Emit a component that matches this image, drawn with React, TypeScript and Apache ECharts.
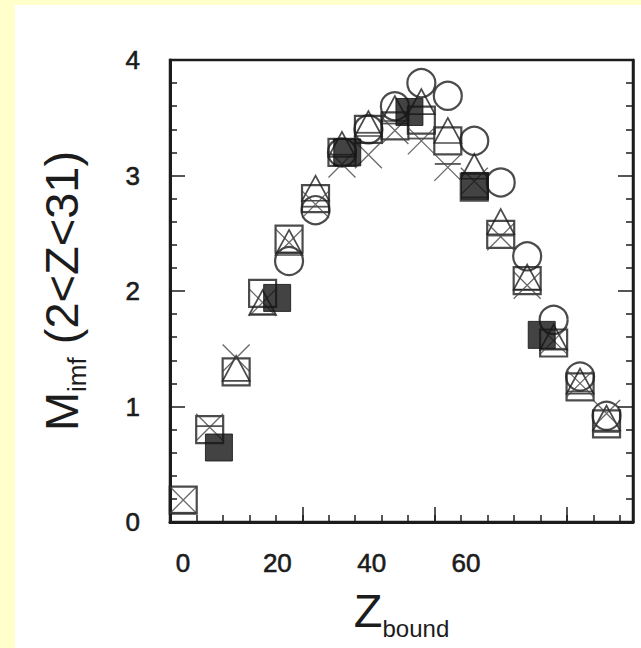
import React, { useEffect, useRef } from "react";
import * as echarts from "echarts";

// Z bins (centre of each bin)
const zBins = [2, 6, 10, 14, 18, 22, 26, 30, 34, 38, 42, 46, 50, 54, 58, 62, 66];
// M_imf values per series (null = no point)
const openSquareVals = [0.19, 0.8, 1.3, 1.98, 2.45, 2.8, 3.2, 3.4, 3.43, 3.48, 3.3, 2.9, 2.49, 2.09, 1.55, 1.17, 0.85];
const openTriangleVals = [null, null, 1.33, 1.9, 2.42, 2.89, 3.27, 3.45, 3.58, 3.64, 3.39, 3.08, 2.6, 2.12, 1.6, 1.22, 0.9];
const openCircleVals = [null, null, null, null, 2.26, 2.7, 3.2, 3.4, 3.6, 3.8, 3.69, 3.3, 2.94, 2.3, 1.75, 1.26, 0.92];
const crossVals = [0.19, 0.82, 1.42, 1.9, 2.42, 2.75, 3.1, 3.18, 3.39, 3.3, 3.07, 2.95, 2.47, 2.05, 1.57, 1.2, 0.94];
const dashVals = [0.08, 0.83, null, 1.8, 2.33, 2.73, 3.18, 3.37, 3.45, 3.32, 3.1, 2.81, 2.48, 2.01, 1.5, 1.13, 0.78];
const filledZ = [7.4, 16.2, 26.8, 36.2, 46.1, 56.2];
const filledVals = [0.645, 1.94, 3.2, 3.55, 2.91, 1.62];

// axis ticks / labels
const xMajorTicks = [20, 40, 60];
const xTickLabels = [0, 20, 40, 60];

const pairs = (xs: number[], ys: (number | null)[]) =>
  xs.map((x, i) => [x, ys[i]]).filter((p) => p[1] !== null);

const INK = "#1c1c1c";
const FONT = "Liberation Sans, Arial, sans-serif";
const labelStyle = {
  fontSize: 26,
  fontFamily: FONT,
  color: INK,
  textBorderColor: INK,
  textBorderWidth: 0.6,
};

export default function App() {
  const ref = useRef<HTMLDivElement>(null);
  useEffect(() => {
    const chart = echarts.init(ref.current!, null, { renderer: "svg" });
    const hollow = { color: "rgba(0,0,0,0)", borderColor: "#1e1e1e", borderWidth: 2.2 };
    const option: any = {
      animation: false,
      grid: {
        left: 155,
        right: 8,
        top: 55,
        bottom: 126,
        show: true,
        borderColor: INK,
        borderWidth: 2.5,
        backgroundColor: "rgba(0,0,0,0)",
      },
      xAxis: [
        {
          type: "value",
          min: 0,
          max: 70,
          interval: 4,
          position: "bottom",
          axisLine: { show: true, onZero: false, lineStyle: { color: INK, width: 3 } },
          axisTick: { show: true, inside: true, length: 7, lineStyle: { color: INK, width: 1.5 } },
          axisLabel: { show: false },
          splitLine: { show: false },
        },
        {
          type: "value",
          min: 0,
          max: 70,
          position: "bottom",
          axisLine: { show: false },
          axisTick: {
            show: true,
            inside: true,
            length: 15,
            customValues: xMajorTicks,
            lineStyle: { color: INK, width: 1.5 },
          },
          axisLabel: { show: false },
          splitLine: { show: false },
        },
        {
          type: "value",
          min: -2.76,
          max: 95.4,
          position: "bottom",
          axisLine: { show: false },
          axisTick: { show: false },
          axisLabel: { show: true, customValues: xTickLabels, margin: 28, ...labelStyle },
          splitLine: { show: false },
          name: "{m|Z}{s|bound}",
          nameLocation: "middle",
          nameGap: 58,
          nameTextStyle: {
            rich: {
              m: { fontSize: 47, fontFamily: FONT, color: INK },
              s: { fontSize: 24, fontFamily: FONT, color: INK, padding: [36, 0, 0, 0] },
            },
          },
        },
      ],
      yAxis: [
        {
          type: "value",
          min: 0,
          max: 4,
          interval: 1,
          position: "left",
          axisLine: { show: true, onZero: false, lineStyle: { color: INK, width: 3 } },
          axisTick: { show: true, inside: true, length: 15, lineStyle: { color: INK, width: 1.5 } },
          minorTick: { show: true, splitNumber: 5, length: 7, lineStyle: { color: INK, width: 1.5 } },
          axisLabel: { show: true, margin: 30, ...labelStyle },
          splitLine: { show: false },
          minorSplitLine: { show: false },
          name: "{m|M}{s|imf}{p| (2<Z<31)}",
          nameLocation: "middle",
          nameRotate: 90,
          nameGap: 80,
          nameTextStyle: {
            rich: {
              m: { fontSize: 47, fontFamily: FONT, color: INK },
              s: { fontSize: 26, fontFamily: FONT, color: INK, padding: [32, 0, 0, 0] },
              p: { fontSize: 47, fontFamily: FONT, color: INK },
            },
          },
        },
        {
          type: "value",
          min: 0,
          max: 4,
          interval: 1,
          position: "right",
          axisLine: { show: true, onZero: false, lineStyle: { color: INK, width: 2.5 } },
          axisTick: { show: true, inside: true, length: 15, lineStyle: { color: INK, width: 1.5 } },
          minorTick: { show: true, splitNumber: 5, length: 7, lineStyle: { color: INK, width: 1.5 } },
          axisLabel: { show: false },
          splitLine: { show: false },
          minorSplitLine: { show: false },
        },
      ],
      series: [
        {
          type: "scatter",
          name: "open square",
          symbol: "rect",
          symbolSize: 27,
          itemStyle: hollow,
          data: pairs(zBins, openSquareVals),
          z: 2,
        },
        {
          type: "scatter",
          name: "dash",
          symbol: "rect",
          symbolSize: [26, 1.8],
          itemStyle: { color: "#2a2a2a" },
          data: pairs(zBins, dashVals),
          z: 2,
        },
        {
          type: "scatter",
          name: "open triangle",
          symbol: "triangle",
          symbolSize: [27, 25],
          itemStyle: { ...hollow, borderWidth: 1.7 },
          data: pairs(zBins, openTriangleVals),
          z: 2,
        },
        {
          type: "scatter",
          name: "open circle",
          symbol: "circle",
          symbolSize: 28,
          itemStyle: hollow,
          data: pairs(zBins, openCircleVals),
          z: 2,
        },
        {
          type: "scatter",
          name: "cross",
          symbol: "path://M0,0L20,20M20,0L0,20",
          symbolSize: 27,
          itemStyle: { color: "rgba(0,0,0,0)", borderColor: "#444", borderWidth: 1.3 },
          data: pairs(zBins, crossVals),
          z: 2,
        },
        {
          type: "scatter",
          name: "filled square",
          symbol: "rect",
          symbolSize: 27,
          itemStyle: { color: "#141414", borderColor: "#111", borderWidth: 1 },
          data: pairs(filledZ, filledVals),
          z: 3,
        },
      ],
    };
    chart.setOption(option);
    return () => chart.dispose();
  }, []);
  return (
    <div
      style={{
        position: "fixed",
        left: 0,
        top: 0,
        width: 641,
        height: 648,
        background: "#FFFFCC",
      }}
    >
      <div
        ref={ref}
        style={{ position: "absolute", left: 15, top: 5, width: 626, height: 643, background: "#ffffff" }}
      />
    </div>
  );
}
